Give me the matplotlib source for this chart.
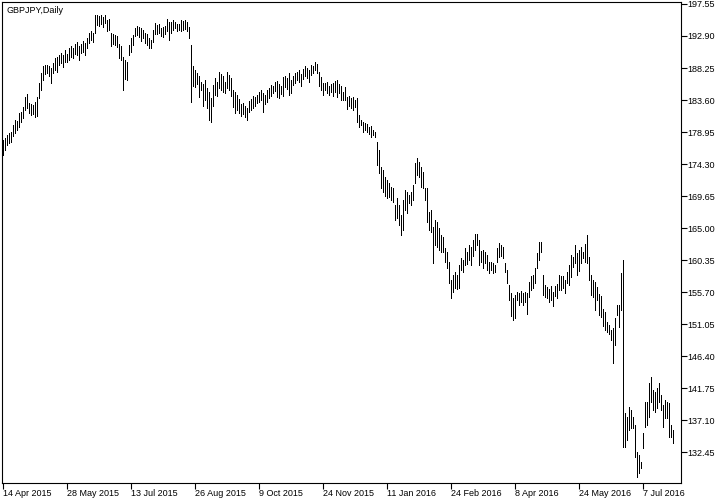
import matplotlib.pyplot as plt
import numpy as np

# GBPJPY daily bars, Apr 2015 - Jul 2016
symbol = "GBPJPY,Daily"
date_labels = ["14 Apr 2015", "28 May 2015", "13 Jul 2015", "26 Aug 2015", "9 Oct 2015",
               "24 Nov 2015", "11 Jan 2016", "24 Feb 2016", "8 Apr 2016", "24 May 2016",
               "7 Jul 2016"]
bars_per_label = 32
price_ticks = [132.45, 137.10, 141.75, 146.40, 151.05, 155.70, 160.35, 165.00,
               169.65, 174.30, 178.95, 183.60, 188.25, 192.90, 197.55]

highs = [
    177.79, 178.08, 178.51, 178.80, 178.95, 179.97, 180.69, 180.55, 181.71, 181.86,
    182.58, 184.04, 184.47, 183.16, 183.02, 182.87, 183.31, 184.04, 186.07, 187.52,
    188.54, 188.69, 188.69, 188.54, 188.25, 188.98, 189.70, 189.85, 190.14, 190.43,
    190.14, 190.87, 190.28, 191.16, 191.45, 191.16, 191.74, 192.03, 191.45, 191.74,
    192.17, 191.88, 192.61, 193.34, 193.63, 193.34, 195.95, 195.95, 195.81, 195.95,
    195.66, 195.95, 195.22, 195.37, 193.34, 193.19, 193.05, 192.90, 191.74, 191.45,
    189.85, 189.41, 189.12, 191.59, 192.61, 193.05, 194.06, 194.35, 194.21, 194.06,
    193.77, 193.34, 193.19, 192.61, 192.32, 193.77, 194.79, 194.50, 194.64, 194.06,
    194.21, 194.35, 195.37, 194.93, 194.93, 195.22, 194.93, 194.64, 194.64, 195.22,
    195.08, 195.22, 194.93, 194.21, 191.59, 188.54, 187.96, 187.52, 187.09, 186.22,
    185.93, 186.51, 185.34, 184.76, 183.89, 185.78, 186.80, 186.22, 187.67, 187.38,
    187.09, 186.22, 187.67, 187.23, 186.80, 185.05, 184.76, 184.33, 183.75, 183.02,
    183.16, 182.73, 182.44, 183.45, 183.75, 184.18, 184.04, 184.33, 184.76, 185.05,
    184.62, 184.33, 185.05, 185.34, 185.78, 185.63, 186.22, 186.36, 185.93, 185.63,
    186.94, 187.09, 186.80, 187.52, 186.51, 187.09, 187.52, 187.67, 187.96, 187.38,
    188.11, 188.54, 188.25, 187.96, 188.69, 188.54, 189.12, 188.83, 187.67, 186.94,
    186.07, 186.07, 186.22, 185.63, 185.93, 186.07, 186.36, 186.51, 185.93, 185.63,
    184.76, 185.49, 184.04, 184.18, 183.89, 184.04, 183.60, 183.89, 181.42, 180.69,
    180.40, 180.26, 180.11, 179.68, 179.82, 179.24, 178.95, 177.50, 176.33, 173.86,
    173.43, 172.41, 171.97, 171.54, 170.96, 170.81, 168.34, 169.36, 168.34, 166.89,
    169.07, 170.52, 170.23, 169.80, 170.23, 171.25, 174.44, 175.17, 174.59, 173.86,
    173.14, 170.81, 170.81, 167.33, 167.62, 165.15, 166.16, 165.87, 165.00, 163.98,
    163.69, 162.09, 161.51, 160.06, 157.44, 158.17, 158.61, 158.17, 159.62, 160.64,
    160.35, 162.09, 161.51, 162.53, 162.24, 163.26, 164.13, 164.13, 163.26, 161.66,
    161.80, 161.51, 161.08, 160.06, 160.06, 159.91, 159.62, 162.09, 162.82, 162.53,
    162.24, 159.91, 158.90, 156.72, 155.56, 154.83, 155.27, 155.70, 155.56, 155.85,
    155.56, 155.70, 155.56, 157.15, 158.03, 158.17, 159.19, 161.37, 162.97, 162.97,
    158.17, 156.72, 156.43, 156.14, 156.57, 155.70, 156.57, 156.86, 158.17, 158.03,
    158.03, 157.44, 158.61, 159.62, 161.08, 160.79, 162.53, 161.37, 161.80, 162.24,
    161.51, 162.68, 163.98, 160.79, 158.17, 157.44, 157.15, 156.43, 155.41, 155.12,
    153.23, 152.80, 151.34, 150.91, 150.18, 150.47, 151.92, 153.81, 153.81, 158.46,
    160.35, 138.12, 137.54, 138.99, 138.56, 137.54, 136.38, 132.45, 132.02, 131.00,
    135.21, 139.72, 139.72, 142.48, 143.35, 141.46, 141.17, 141.76, 142.48, 140.74,
    139.28, 140.01, 139.72, 139.57, 136.38, 135.65,
]
lows = [
    175.61, 176.33, 177.06, 177.35, 177.50, 178.37, 178.80, 179.24, 179.68, 180.40,
    180.98, 182.15, 182.44, 181.71, 181.42, 181.57, 181.13, 181.27, 183.89, 185.05,
    186.51, 187.38, 187.52, 187.09, 186.07, 187.52, 187.96, 187.67, 188.69, 188.98,
    188.40, 189.12, 189.12, 189.41, 189.85, 189.70, 190.28, 190.14, 189.41, 190.43,
    190.58, 190.14, 191.16, 191.88, 192.32, 192.03, 193.34, 194.50, 194.35, 194.64,
    194.21, 194.79, 193.63, 193.77, 191.45, 191.74, 191.59, 191.30, 189.70, 189.41,
    185.05, 186.65, 186.51, 190.14, 190.58, 191.59, 192.90, 193.05, 192.75, 192.17,
    192.61, 191.88, 191.59, 191.16, 191.16, 192.03, 193.19, 193.19, 193.34, 192.90,
    192.75, 193.19, 193.63, 192.32, 193.34, 193.77, 194.06, 193.63, 193.77, 193.63,
    193.77, 193.92, 193.63, 192.61, 183.31, 185.63, 185.49, 185.93, 184.04, 185.05,
    182.73, 183.60, 182.44, 180.69, 180.40, 182.73, 184.33, 184.18, 185.34, 185.05,
    184.76, 184.62, 185.34, 185.05, 184.18, 182.58, 181.71, 182.15, 181.71, 181.27,
    181.57, 181.13, 180.69, 181.86, 182.15, 182.44, 182.73, 183.16, 183.31, 183.60,
    181.86, 183.02, 183.31, 183.89, 184.18, 184.62, 184.91, 184.04, 183.89, 184.47,
    184.18, 185.49, 185.20, 184.33, 184.62, 185.78, 186.07, 186.51, 186.22, 185.63,
    186.65, 187.09, 186.80, 186.22, 187.23, 187.52, 187.96, 187.52, 185.63, 185.05,
    184.33, 185.05, 184.62, 184.33, 184.76, 184.18, 184.76, 184.04, 184.62, 183.60,
    183.60, 183.60, 182.29, 182.73, 182.44, 182.15, 182.58, 180.40, 179.68, 179.97,
    178.95, 179.24, 178.95, 178.66, 178.22, 178.51, 178.22, 174.15, 172.99, 170.81,
    170.23, 169.65, 169.36, 169.51, 169.07, 168.78, 166.16, 166.45, 165.44, 163.98,
    164.71, 167.62, 167.18, 168.63, 168.34, 169.07, 171.54, 172.70, 172.41, 170.96,
    170.81, 169.07, 165.87, 164.71, 164.42, 159.91, 162.53, 162.24, 161.80, 161.51,
    161.51, 160.06, 159.19, 157.01, 154.83, 155.70, 156.28, 156.14, 156.28, 158.90,
    158.61, 159.62, 159.77, 160.35, 159.62, 160.93, 161.80, 162.53, 159.62, 160.06,
    159.19, 159.91, 158.90, 158.46, 158.90, 158.46, 158.61, 160.06, 160.79, 160.93,
    160.64, 158.61, 157.01, 154.54, 152.21, 151.63, 151.92, 154.54, 153.81, 154.25,
    153.81, 154.25, 152.51, 154.98, 155.99, 156.28, 157.01, 159.19, 160.35, 161.51,
    155.27, 154.98, 154.83, 154.25, 154.54, 153.67, 155.12, 154.83, 155.99, 155.99,
    156.28, 155.56, 157.01, 156.72, 157.88, 159.33, 159.91, 158.17, 158.75, 159.91,
    160.64, 160.06, 159.91, 157.44, 155.27, 154.98, 153.09, 154.54, 152.36, 152.07,
    150.76, 150.18, 149.89, 149.60, 148.73, 145.38, 148.00, 152.36, 150.62, 153.09,
    133.18, 133.18, 134.20, 135.65, 135.94, 135.94, 131.72, 128.82, 129.40, 130.13,
    133.03, 136.09, 136.38, 137.54, 139.72, 138.56, 138.27, 138.85, 139.72, 138.56,
    136.09, 137.39, 137.39, 134.63, 134.63, 133.76,
]

plt.rcParams['font.family'] = ['Liberation Sans', 'DejaVu Sans']
plt.rcParams['font.size'] = 6.5

x = np.arange(len(highs))

fig = plt.figure(figsize=(7.25, 5), dpi=100)
ax = fig.add_axes([0.0034, 0.034, 0.9357, 0.962])

# thin one-pixel bars, high to low
ax.vlines(x, lows, highs, colors="black", linewidth=0.55, antialiased=False)

ax.set_xlim(-0.25, 339)
ax.set_ylim(127.95, 197.84)

# price scale on the right
ax.yaxis.tick_right()
ax.set_yticks(price_ticks)
ax.set_yticklabels([f"{p:.2f}" for p in price_ticks])
ax.tick_params(axis="y", direction="out", length=4, width=0.8, pad=1, colors="black")

# date scale, labels start at the tick
ax.set_xticks(np.arange(len(date_labels)) * bars_per_label)
ax.set_xticklabels(date_labels, ha="left")
ax.tick_params(axis="x", direction="out", length=4, width=0.8, pad=0.5, colors="black")

for s in ax.spines.values():
    s.set_linewidth(0.8)
    s.set_color("black")

ax.text(0.006, 0.983, symbol, transform=ax.transAxes, ha="left", va="center")

fig.savefig("out.png", dpi=100)
